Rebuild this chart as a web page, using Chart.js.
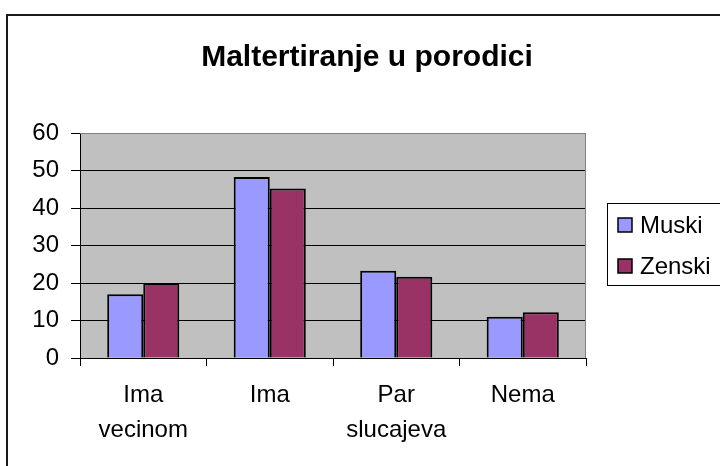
<!DOCTYPE html>
<html>
<head>
<meta charset="utf-8">
<script src="https://cdn.jsdelivr.net/npm/chart.js@4"></script>
<style>
  html, body { margin: 0; padding: 0; background: #fff; overflow: hidden; }
  #wrap { width: 720px; height: 466px; position: relative; }
</style>
</head>
<body>
<div id="wrap"><canvas id="myChart"></canvas></div>
<script>
const title = "Maltertiranje u porodici";
const categories = [["Ima", "vecinom"], ["Ima"], ["Par", "slucajeva"], ["Nema"]];
const seriesNames = ["Muski", "Zenski"];
const muski = [17, 48.3, 23.3, 11];
const zenski = [20, 45.2, 21.7, 12.2];
const yTicks = [0, 10, 20, 30, 40, 50, 60];

const FONT = "'Liberation Sans', Arial, sans-serif";
Chart.defaults.font.family = FONT;
Chart.defaults.color = "#000";

// gray plot background, frame, title and boxed legend
const decor = {
  id: "decor",
  beforeDraw(chart) {
    const { ctx, chartArea: a } = chart;
    ctx.save();
    ctx.fillStyle = "#fff";
    ctx.fillRect(0, 0, chart.width, chart.height);
    ctx.fillStyle = "#c0c0c0";
    ctx.fillRect(a.left, a.top, a.right - a.left, a.bottom - a.top);
    ctx.restore();
  },
  beforeDatasetsDraw(chart) {
    const { ctx, chartArea: a } = chart;
    ctx.save();
    ctx.strokeStyle = "#808080";
    ctx.lineWidth = 1;
    ctx.beginPath();
    ctx.moveTo(a.left, a.top + 0.5);
    ctx.lineTo(a.right - 0.5, a.top + 0.5);
    ctx.lineTo(a.right - 0.5, a.bottom);
    ctx.stroke();
    ctx.restore();
  },
  afterDraw(chart) {
    const { ctx } = chart;
    ctx.save();
    // outer frame
    ctx.strokeStyle = "#1a1a1a";
    ctx.lineWidth = 2;
    ctx.strokeRect(7, 15, 760, 500);

    // title
    ctx.fillStyle = "#000";
    ctx.font = "bold 30px " + FONT;
    ctx.textAlign = "center";
    ctx.textBaseline = "alphabetic";
    ctx.fillText(title, 367, 66);

    // legend
    ctx.lineWidth = 1;
    ctx.strokeStyle = "#000";
    ctx.strokeRect(607.5, 203.5, 140, 82);
    ctx.font = "24px " + FONT;
    ctx.textAlign = "left";
    ctx.textBaseline = "middle";
    chart.data.datasets.forEach((ds, i) => {
      const cy = 225 + i * 41;
      ctx.fillStyle = ds.backgroundColor;
      ctx.fillRect(618, cy - 7, 14, 14);
      ctx.lineWidth = 1.5;
      ctx.strokeRect(618, cy - 7, 14, 14);
      ctx.fillStyle = "#000";
      ctx.fillText(ds.label, 640, cy + 1);
    });
    ctx.restore();
  },
};

new Chart(document.getElementById("myChart"), {
  type: "bar",
  data: {
    labels: categories,
    datasets: [
      { label: seriesNames[0], data: muski, backgroundColor: "#9999ff" },
      { label: seriesNames[1], data: zenski, backgroundColor: "#993366" },
    ],
  },
  options: {
    responsive: true,
    maintainAspectRatio: false,
    animation: false,
    events: [],
    layout: { padding: { left: 0, right: 134, top: 133, bottom: 0 } },
    datasets: {
      bar: {
        borderColor: "#000",
        borderWidth: 2,
        categoryPercentage: 0.57,
        barPercentage: 1,
      },
    },
    plugins: { legend: { display: false }, title: { display: false }, tooltip: { enabled: false } },
    scales: {
      x: {
        afterFit: (s) => { s.height = 108; },
        grid: { drawOnChartArea: false, offset: true, color: "#000", tickLength: 8 },
        border: { color: "#000", width: 1 },
        ticks: { font: { size: 24, lineHeight: 1.45 }, padding: 12, maxRotation: 0 },
      },
      y: {
        min: 0,
        max: 60,
        afterFit: (s) => { s.width = 80; },
        afterBuildTicks: (s) => { s.ticks = yTicks.map((v) => ({ value: v })); },
        grid: {
          color: (c) => (c.tick && c.tick.value === 60 ? "#808080" : "#000"),
          tickColor: "#000",
          tickLength: 9,
        },
        border: { color: "#000", width: 1 },
        ticks: { font: { size: 24 }, padding: 12 },
      },
    },
  },
  plugins: [decor],
});
</script>
</body>
</html>
